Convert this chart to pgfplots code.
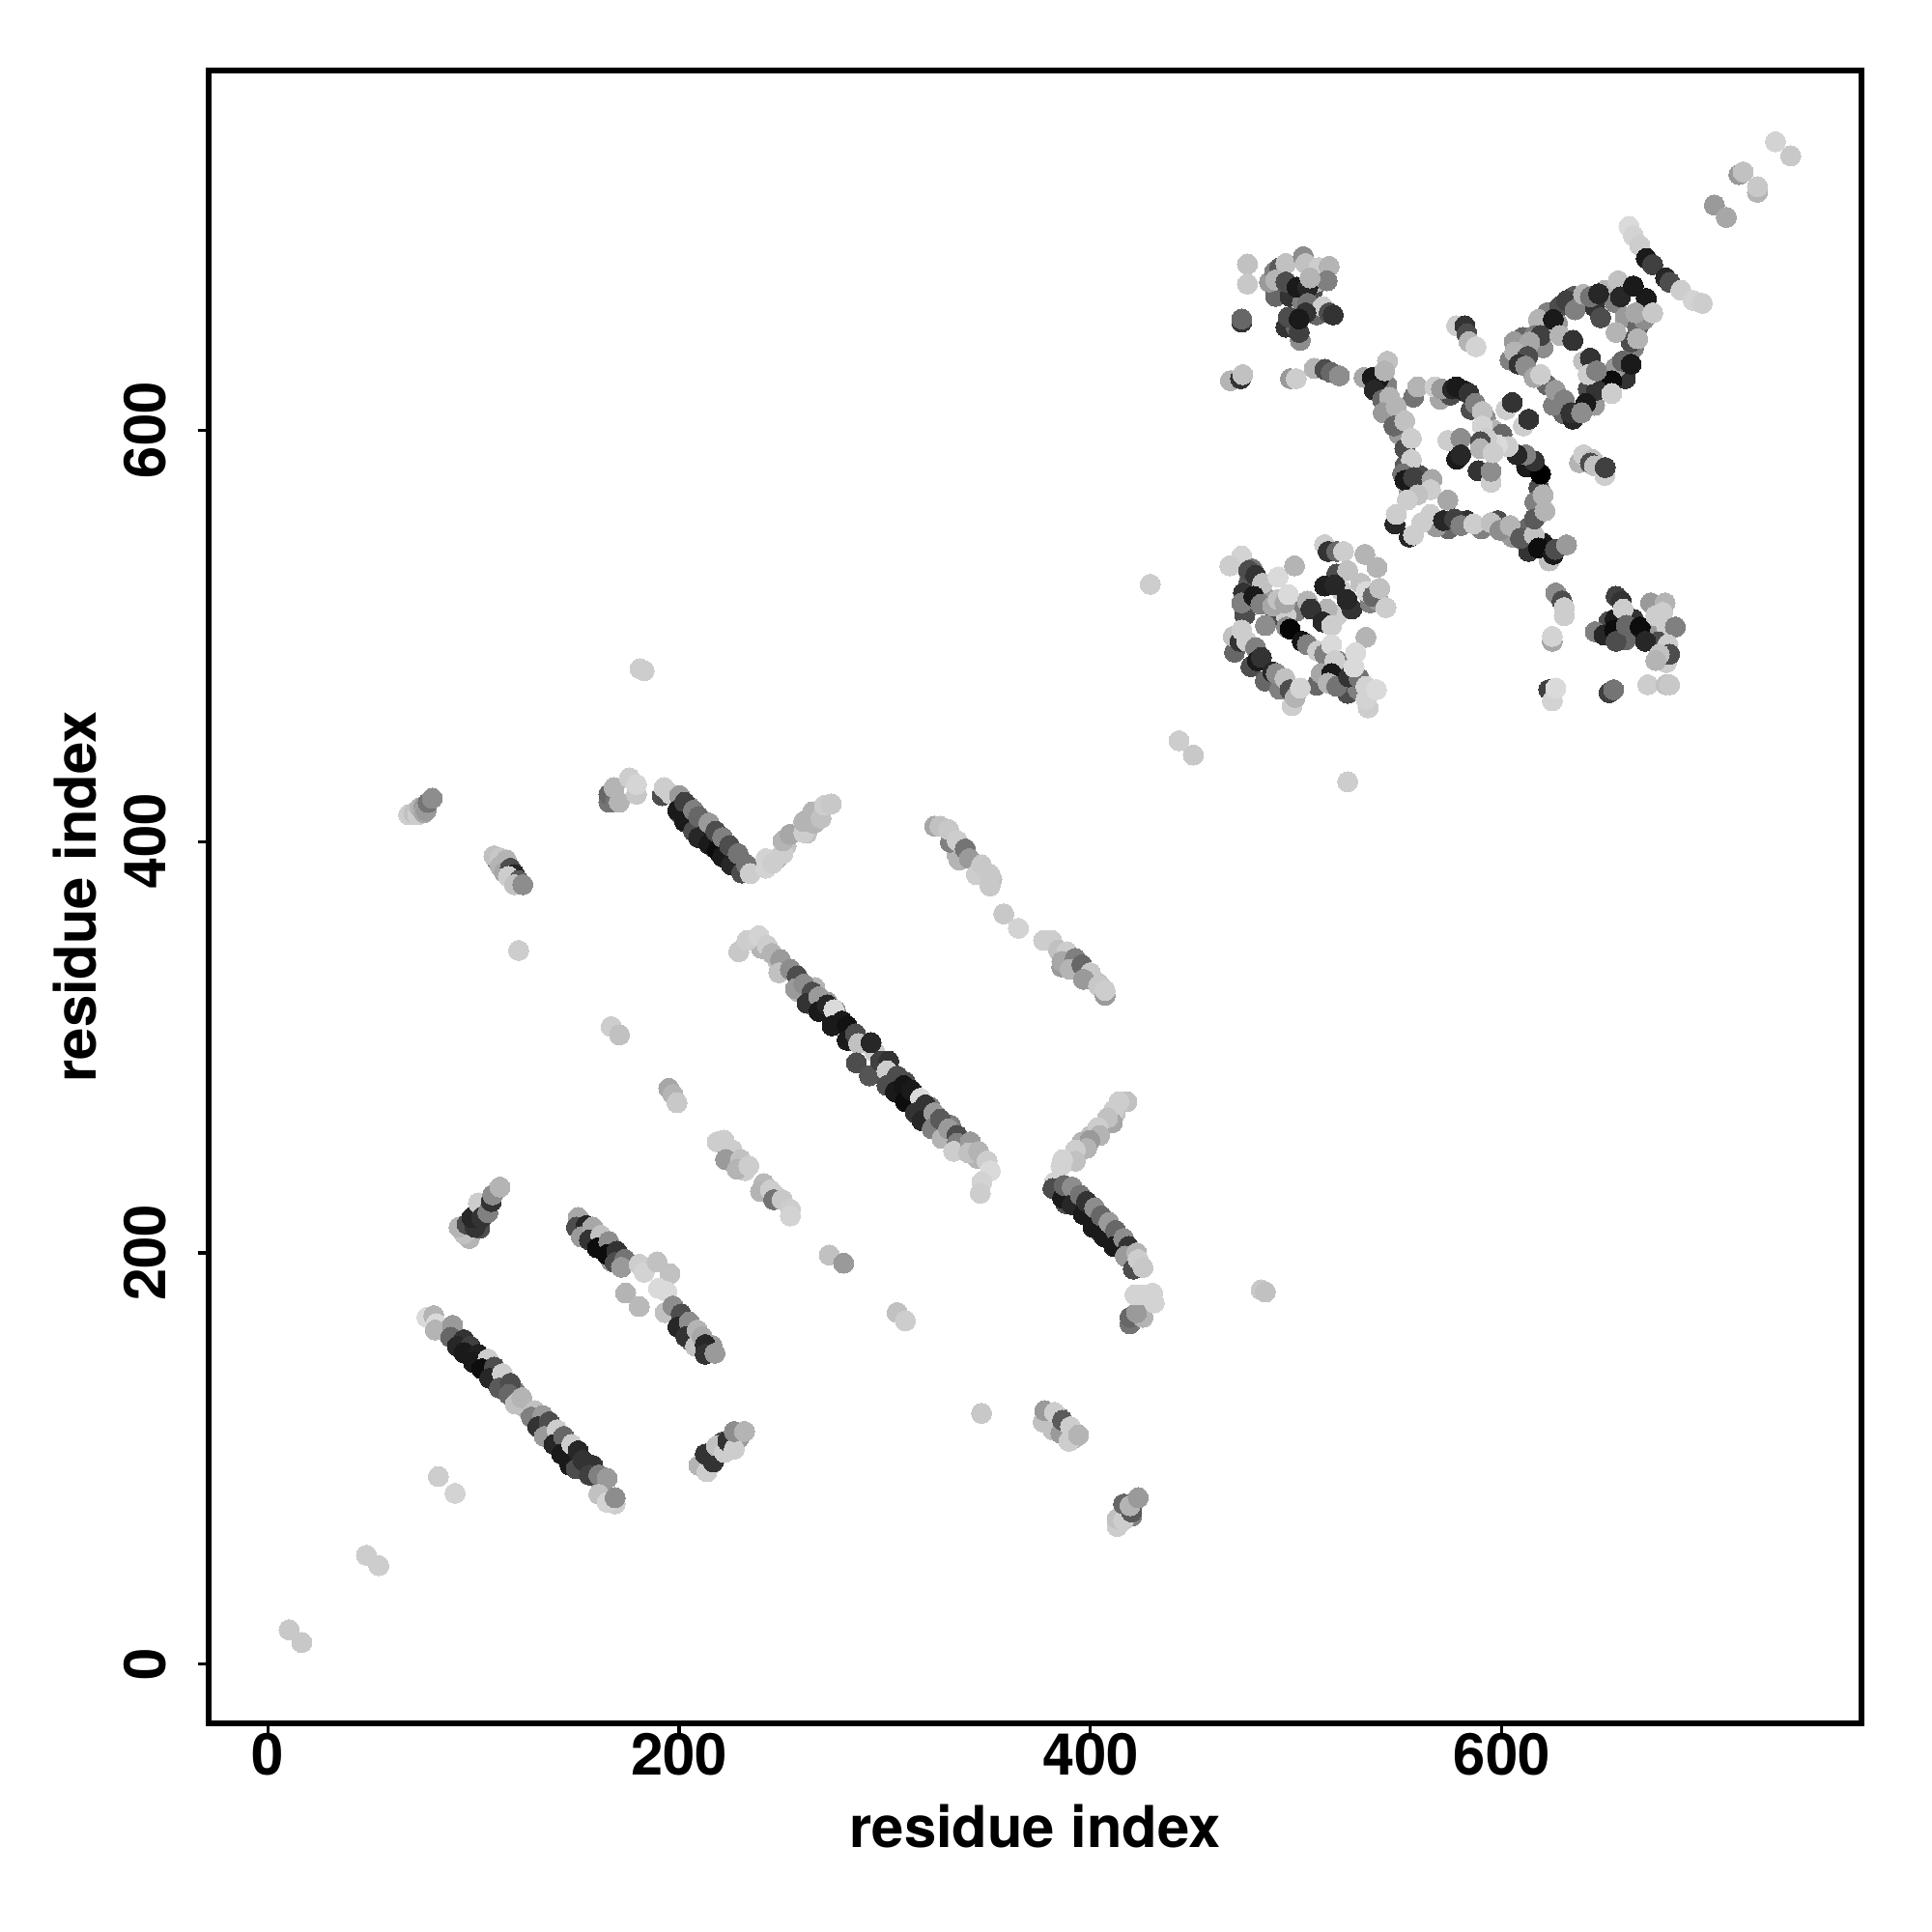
\documentclass[border=0pt]{standalone}
\usepackage{fontspec}
\setmainfont{TeX Gyre Heros}
\usepackage{pgfplots}
\pgfplotsset{compat=1.18}
\begin{document}
\begin{tikzpicture}[x=1cm,y=1cm]
\useasboundingbox (0,0) rectangle (20,20);
\begin{axis}[
 at={(2.16cm,2.16cm)},anchor=south west,
 scale only axis,width=17.11cm,height=17.11cm,
 xmin=-28.7,xmax=774.8,ymin=-28.7,ymax=774.8,
 axis line style={line width=1.7pt,black},
 tick pos=left,tick align=outside,
 major tick length=0.115cm,
 tick style={line width=0.9pt,black},
 xtick={0,200,400,600},ytick={0,200,400,600},
 /pgf/number format/assume math mode=true,
 ticklabel style={font=\fontsize{17}{20}\selectfont\bfseries},
 yticklabel style={rotate=90,anchor=south,inner sep=0pt,yshift=0.32cm},
 xticklabel style={anchor=north,inner sep=0pt,yshift=0.02cm},
 label style={font=\fontsize{17}{20}\selectfont\bfseries},
 xlabel={residue index},ylabel={residue index},
 xlabel style={at={(axis description cs:0.5,0)},anchor=north,inner sep=0pt,yshift=-0.83cm},
 ylabel style={at={(axis description cs:0,0.5)},anchor=south,inner sep=0pt,yshift=1.15cm},
 colormap/blackwhite,point meta min=0,point meta max=1,
 clip=true,
]
\addplot[scatter,only marks,mark=*,mark size=0.104cm,point meta=explicit,
 scatter/use mapped color={draw=mapped color,fill=mapped color},
 mark options={line width=0pt}]
 table[header=false,row sep=\\,x index=0,y index=1,meta index=2]{
266 329 .7\\258 327 .7\\272 322 .6\\276 318 .6\\295 298 .8\\310 283 .3\\322 271 .5\\318 268 .7\\332 262 .5\\338 252 .7\\325 262 .8\\248 342 .75\\240 348 .7\\285 303 .3\\300 286 .2\\345 246 .7\\
100 150 .5\\92 157 .6\\110 143 .7\\112 136 .6\\125 125 .7\\120 133 .5\\128 121 .5\\140 111 .6\\150 101 .5\\140 107 .6\\162 88 .6\\152 98 .4\\
205 417 .6\\200 414 .3\\212 410 .5\\208 406 .2\\225 396 .5\\217 397 .2\\232 389 .6\\220 394 .3\\392 227 .5\\388 224 .3\\400 222 .6\\397 219 .3\\412 208 .6\\405 210 .2\\420 200 .6\\412 204 .3\\
160 209 .6\\154 208 .4\\172 197 .5\\167 196 .6\\208 161 .6\\202 162 .6\\216 155 .6\\206 157 .4\\
340 393 .7\\335 394 .7\\350 382 .75\\392 342 .75\\386 339 .6\\404 331 .75\\232 240 .8\\227 243 .75\\248 227 .8\\252 398 .75\\248 392 .7\\268 412 .75\\262 404 .75\\400 257 .75\\396 254 .7\\410 264 .75\\412 268 .75\\
610 645 .4\\606 643 .6\\604 634 .5\\614 640 .2\\620 640 .55\\622 657 .5\\628 660 .3\\627 652 .6\\635 665 .35\\645 660 .2\\650 668 .7\\655 662 .5\\660 655 .6\\666 650 .4\\664 640 .5\\660 625 .2\\655 630 .6\\650 620 .15\\645 612 .6\\642 620 .3\\630 608 .4\\625 612 .5\\622 622 .4\\
540 620 .2\\544 622 .5\\546 608 .3\\550 598 .6\\553 583 .35\\555 570 .6\\560 578 .3\\570 615 .65\\575 617 .3\\585 610 .3\\592 606 .55\\596 600 .7\\600 598 .4\\612 582 .1\\618 572 .3\\616 565 .5\\612 552 .4\\605 548 .6\\598 556 .3\\590 552 .5\\583 556 .2\\574 552 .4\\568 553 .6\\620 545 .1\\613 541 .2\\
477 526 .35\\484 520 .6\\490 510 .3\\500 512 .5\\485 505 .55\\475 510 .3\\495 510 .8\\470 492 .4\\478 485 .3\\485 478 .4\\492 474 .5\\498 466 .8\\520 488 .5\\510 476 .4\\525 472 .3\\530 474 .5\\535 465 .8\\520 510 .8\\515 513 .7\\527 513 .2\\536 516 .5\\540 517 .6\\522 522 .8\\
490 665 .4\\497 665 .2\\503 662 .5\\508 668 .3\\510 672 .7\\495 650 .2\\500 650 .4\\510 656 .4\\487 672 .6\\
660 498 .4\\664 508 .2\\672 500 .1\\676 504 .6\\680 505 .8\\676 497 .3\\652 507 .3\\655 508 .1\\680 487 .8\\
98 207 .7\\102 219 .4\\105 222 .3\\103 212 .3\\214 98 .3\\219 102 .5\\221 108 .3\\225 108 .7\\229 110 .6\\116 387 .3\\112 390 .5\\420 72 .5\\385 120 .5\\388 112 .7\\392 110 .7\\
10.4 16.8 .78\\16.6 10.6 .78\\48 53 .8\\54 48 .8\\83 91.3 .8\\91.1 83.1 .82\\
77.4 168.7 .85\\80.8 169.5 .7\\82 165.6 .85\\81.5 162.5 .7\\89.9 164.8 .6\\89 159 .4\\95.4 157.8 .2\\92.2 154.6 .15\\98.5 154.6 .25\\95.4 151.5 .1\\102.4 150.7 .12\\100 146.8 .1\\107.1 148.4 .8\\104 143.7 .05\\110.2 144.5 .3\\107.9 139 .15\\114.1 141.3 .8\\112.6 134.3 .35\\118 136.6 .3\\117.3 131.2 .4\\120.4 126.5 .75\\123.5 129.6 .7\\
129.8 123.3 .75\\128.2 120.2 .5\\133.7 121 .6\\131.3 115.5 .2\\136.8 117.9 .3\\134.5 110.8 .6\\140.7 114 .8\\139.2 106.9 .15\\143.9 110.8 .4\\143 102.2 .1\\147.8 106.9 .8\\147 96.7 .1\\150.9 103.8 .15\\150 95 .3\\153.3 99.1 .2\\158 96.7 .2\\156.4 92 .25\\161 92 .5\\165 90.5 .6\\161 82.6 .75\\168.9 78 .8\\165 78.7 .82\\168.9 81 .55\\
150.9 217.2 .65\\150.1 212.5 .3\\154.8 213.3 .15\\152.5 207.8 .6\\158 212.5 .65\\156.4 206.3 .2\\161.9 208.6 .75\\160.3 202.4 .05\\165.8 205.5 .55\\165 199.2 .05\\169.7 200.8 .2\\168.9 195.3 .3\\173.6 196.9 .45\\172 193 .6\\
180.6 194.5 .8\\183 190.6 .82\\189.3 195.6 .75\\195.5 189.9 .75\\190 182.8 .85\\194 181.2 .85\\174 180.5 .7\\180.6 173.9 .72\\
193.2 171 .75\\197 174.2 .55\\201 170.3 .3\\199.4 164 .15\\204.9 166.4 .55\\203.3 159.3 .2\\208.8 162.5 .7\\208 154.6 .75\\211.2 159.3 .65\\212.7 155.4 .15\\212.7 150.7 .2\\217.4 151.2 .6\\
95.4 209.4 .75\\93 212.5 .7\\96.9 214 .3\\100.8 212.5 .2\\99.3 217.2 .15\\102.4 224.3 .8\\104 217.2 .2\\107 219.6 .5\\108.7 225 .2\\109.4 228.2 .55\\112.9 232 .7\\
209.6 96.7 .7\\213.5 93.6 .8\\212.7 102.2 .2\\216.6 98.3 .2\\218.2 106.1 .75\\222.1 103 .8\\223.7 108.5 .2\\226.8 104.6 .8\\226.8 113.2 .55\\231.8 113.2 .7\\
229 346.4 .78\\233 351.9 .8\\238.8 354.2 .82\\242.8 349.5 .8\\245.2 345.6 .7\\249.3 342.5 .6\\248.5 336.2 .75\\254.1 337.8 .55\\257.4 334.6 .3\\256.6 328.4 .6\\260.6 330.7 .55\\264.7 326.8 .3\\262.2 321.3 .2\\267.9 324.5 .6\\267.9 317.4 .1\\272 320.6 .15\\275.2 318.2 .85\\274.4 310.4 .1\\279.2 312.7 .1\\281.7 310.4 .07\\281.7 303.4 .1\\285.7 306.5 .3\\287.3 301.8 .75\\293.3 302.2 .15\\286.2 292.4 .3\\292.5 286.1 .33\\297.9 293.2 .25\\301.9 293.2 .2\\301.1 288.5 .8\\306 286 .3\\301.1 281.4 .3\\305.1 278.3 .1\\309.2 281.4 .08\\310 273.6 .05\\312.9 279.1 .1\\317.3 275.2 .85\\314.9 268.1 .2\\319.7 272 .2\\318.1 264.2 .15\\323.8 268.1 .6\\323 260.3 .5\\327 265 .35\\327.8 255.6 .7\\331 260.3 .6\\335.1 257.2 .3\\335.1 253.3 .5\\333.5 249.4 .8\\341.6 254 .6\\340.8 248.6 .75\\345.6 249.3 .7\\349.7 244.7 .8\\351.3 239.9 .85\\347.2 234.5 .82\\346.4 229 .8\\
218.5 254 .8\\221.8 254.8 .8\\225.8 250.1 .8\\222.6 245.4 .6\\229.9 245.4 .75\\228.2 240.7 .7\\233.9 242.3 .8\\241.2 233.7 .72\\239.6 229.8 .7\\244.4 230.6 .8\\246 225.9 .45\\250.1 225.9 .78\\254.1 221.2 .8\\254.1 218 .82\\
357.8 364.8 .78\\365 357.8 .82\\
377.2 351.9 .8\\381.2 351.9 .8\\384.5 347.2 .75\\388.5 346.4 .8\\386.1 341.7 .65\\392.6 343.2 .5\\390.1 337.8 .7\\395.8 340.1 .4\\399.9 336.2 .78\\396.6 333 .6\\403.9 329.9 .78\\407.1 325.2 .6\\407.1 327.6 .8\\
417.7 273.5 .75\\413.8 273.5 .8\\411.4 269.6 .8\\410.6 263.3 .65\\408.3 265.7 .75\\403.6 261 .8\\404.4 257.1 .7\\399.7 254.7 .6\\398.1 250.8 .7\\392.6 250 .8\\392.6 244.6 .75\\386.4 245.3 .82\\385.6 242.2 .82\\
382.5 234.4 .82\\381.7 231.3 .3\\386.4 226.6 .1\\387.2 232.8 .4\\391.1 232 .55\\391.1 223.4 .15\\395 228.1 .45\\396.5 218.7 .1\\398.1 225 .2\\402 221.9 .55\\401.2 212.5 .1\\405.2 218 .4\\406.7 207.8 .1\\409 214.8 .6\\412.2 210.9 .4\\411.4 203.1 .1\\416.1 207 .55\\418.5 203.1 .2\\416.9 198.4 .6\\420.8 192.1 .3\\422.4 200 .7\\423.2 196.8 .8\\425.5 192.9 .78\\
419.2 165.5 .45\\419.2 168.7 .4\\425.5 168.7 .7\\422.4 171 .6\\425.5 179.6 .82\\421.6 179.6 .82\\430.2 180.4 .82\\431 175.7 .82\\
377 117.8 .75\\377.8 123.3 .6\\381.7 113.9 .75\\382.5 122.5 .8\\385.6 112.3 .6\\386.4 118.6 .35\\389.5 108.4 .8\\390.3 115.5 .8\\394.2 111.5 .7\\
413 67 .8\\413 70.8 .75\\416.1 70.1 .8\\416.1 77.9 .4\\420 74 .35\\419.2 77.1 .7\\423.2 81 .6\\
165.9 419.1 .45\\165.9 423 .4\\169.2 419.1 .45\\170.9 419.1 .7\\168.4 426.2 .7\\175.9 430.9 .8\\179.3 423 .78\\179.3 427.7 .83\\
191.8 422.3 .3\\192.7 426.2 .8\\196 423 .8\\200.2 422.3 .6\\199.4 415.2 .1\\202.7 419.1 .25\\202.7 409.7 .1\\207 415.2 .5\\207 405 .3\\209.5 412.1 .4\\209.5 401.9 .15\\214.5 398.8 .1\\214.5 409 .6\\217.8 405 .3\\218.7 395.7 .05\\221.2 401.9 .5\\221.2 392.5 .1\\224.5 398 .3\\225.4 388.6 .15\\228.7 394.1 .45\\230.4 384.7 .3\\232.9 388.6 .45\\234.6 384.4 .8\\
242.2 387 .82\\242.2 391.7 .82\\245.5 389.4 .8\\250.5 394.1 .8\\250.5 400.3 .7\\253.9 403.5 .65\\260.6 404.3 .8\\260.6 409.7 .7\\265.6 408.9 .7\\264.8 414.4 .7\\269 411.3 .75\\270.7 417.6 .8\\274 418.3 .78\\
324.3 407.4 .65\\326.8 407.4 .75\\331.9 399.6 .5\\331 405.8 .78\\335.2 400.4 .8\\336.1 391 .7\\339.1 396.4 .45\\341.1 391.7 .6\\344.5 383.9 .8\\347 388.6 .78\\352 381.6 .75\\351.2 383.9 .78\\351.2 378.4 .78\\
68.5 413 .8\\71 414 .75\\73 413 .8\\74 416.5 .7\\76 417 .6\\76 414 .65\\77 415 .6\\78 419 .45\\80 421 .55\\
110 393 .75\\113 392 .78\\116 391 .7\\113 388 .7\\115 385 .65\\118 387 .3\\120 384 .15\\117 383 .8\\122 381 .35\\120 379 .75\\124 379 .55\\
122 347 .8\\347 122 .78\\181 484 .8\\183 483 .8\\483 182 .78\\485 181 .75\\525 429 .8\\429 525 .8\\443 449 .8\\450 442 .78\\273 199 .75\\280 195 .6\\195 280 .65\\197 277 .7\\199 273 .78\\306 171 .75\\310 167 .8\\167 310 .8\\171 306 .75\\
703.3 709.4 .6\\709.1 703.4 .65\\715.2 724.2 .6\\717.3 725.5 .75\\724.2 715.6 .7\\724.2 718.3 .78\\733 740.2 .82\\740.4 733.3 .78\\
476.3 680.7 .75\\476.3 671 .78\\473.5 652.5 .2\\473.5 654 .4\\489.5 677 .5\\492 679 .35\\495 681 .75\\503.5 684.3 .55\\504.6 681 .75\\490 673 .7\\495 672 .3\\500.4 669.5 .1\\505.6 669.5 .15\\511 679 .8\\516 679.6 .7\\515 672.6 .5\\506.7 674 .7\\
505.6 661.6 .45\\513 660 .8\\516 657 .3\\518 656 .2\\496.2 655 .3\\502 643.6 .55\\501.4 647.5 .25\\504.6 657 .2\\501.4 654 .1\\
468 624 .7\\473 625 .2\\474 627 .75\\497.2 625 .6\\500 625 .8\\508.8 630 .7\\514 629.5 .3\\517 628 .4\\521 626.4 .55\\
533 625.6 .65\\537 625.6 .1\\540 625 .1\\538 619.4 .15\\544.4 633.5 .75\\543 628.8 .7\\542 614.7 .4\\545.4 616 .7\\557 616 .45\\559 621 .7\\567.4 621 .8\\570.6 620 .6\\576 620 .15\\578 621 .1\\582 619 .1\\584 617.8 .2\\587 613 .5\\590.5 609 .75\\590.5 602 .82\\
542.3 608.4 .6\\548.6 611.5 .7\\547.5 602 .4\\552.8 604.5 .75\\552.8 591 .3\\556 596 .8\\556 585.7 .8\\551.7 578.7 .45\\552.8 575.6 .1\\557 577 .25\\566 576 .65\\565.3 571 .8\\559 568.5 .75\\554 566 .8\\573.7 566 .65\\548 554.4 .15\\548.6 559 .8\\555 548 .15\\557 549 .8\\565.3 559 .8\\561 555 .8\\571.6 556 .15\\577 556.8 .25\\580 553.6 .5\\586.3 554.4 .8\\594.7 555 .75\\599 551.3 .55\\604 553.6 .7\\609 547.4 .35\\615.7 549 .75\\623 536.4 .75\\617.8 542.7 .05\\625 539.6 .1\\626 542 .3\\631.4 544.2 .6\\
615.7 556.8 .35\\620.9 560.7 .7\\620 568.5 .7\\618.8 578.7 .0\\615.7 585 .2\\611.5 588 .5\\607.3 588 .15\\603 592 .8\\597.8 592.8 .85\\592.6 596 .8\\
573.7 595 .8\\580 596 .55\\589.5 594.3 .3\\578 585.9 .1\\580 588 .15\\588.4 580.2 .2\\594.7 574.6 .8\\594.7 580 .55\\589.5 591 .7\\595.7 589 .8\\
602 610 .8\\605 613.4 .2\\610.4 602 .8\\613 605.3 .2\\
637.7 584.2 .7\\639.7 588 .8\\644 585.7 .75\\643 584 .3\\645 582.6 .75\\650 578 .8\\650.2 581.8 .25\\
578 650.7 .8\\582 650.7 .2\\583 646.8 .3\\584 643 .7\\587.4 640.5 .82\\
617.8 653.8 .7\\615.7 646 .5\\618.8 646 .25\\613.5 642.8 .65\\606.2 638 .7\\612.5 635.8 .3\\608.3 632 .2\\611.5 631.1 .55\\615.7 625.6 .65\\618.8 627 .8\\625 653.8 .1\\631.4 663 .25\\635.6 658.5 .5\\639.7 666 .7\\643 664.8 .45\\647 666.3 .15\\656.5 672.6 .75\\657.6 664.8 .15\\663.9 670 .1\\670.2 664 .1\\669.1 653.8 .55\\665 657 .65\\673.3 657 .78\\662.8 642.8 .3\\666 644.4 .7\\658.6 633.5 .4\\662.8 632 .1\\653.4 624 .05\\646 619.4 .2\\653.4 617.8 .8\\640.8 613 .1\\626 619.4 .6\\630.3 614.7 .5\\634.5 605.3 .15\\633.5 608.4 .2\\638.7 608.4 .55\\
648 654.6 .3\\628.2 646 .7\\634.5 643.6 .2\\655.5 647.5 .7\\639.7 633.5 .75\\643 635 .2\\641.9 627 .8\\646 628.8 .5\\
661.8 699 .85\\663.9 694.5 .82\\667 689.8 .8\\670.2 683.5 .1\\673.3 680.4 .25\\679.6 674 .15\\681.7 671.8 .3\\687 668 .8\\693 663 .82\\697.4 661.6 .8\\
473.5 538.8 .82\\467.7 534 .8\\478.6 532.5 .45\\476.9 531.7 .3\\480.3 529.4 .2\\483.6 525.5 .75\\491.2 528.6 .85\\499.2 534 .7\\474.4 520.8 .2\\473.5 516 .5\\479.4 519.2 .1\\482.8 515.3 .5\\488.6 514.5 .65\\491.2 517.6 .75\\494.5 516 .65\\496.2 520 .85\\505.4 516.9 .7\\507.1 513 .2\\495.3 504.3 .55\\497 503.3 .02\\513 506.7 .15\\517.2 505 .8\\502.9 497.3 .08\\505.4 495.7 .5\\
513.8 544.3 .8\\515.5 541 .2\\519.7 541 .4\\523 541 .8\\533.4 539.6 .7\\539.3 533.3 .7\\519.7 530 .3\\525 531.7 .75\\513.8 524.2 .12\\518.8 524.7 .15\\524.7 517.6 .15\\531.4 525.5 .75\\534 521.6 .85\\537.3 519.2 .4\\540.6 523.1 .75\\543.6 513.7 .8\\
469.4 499.7 .75\\472.7 497.3 .2\\473.5 502.8 .8\\476 497.3 .8\\480.3 494.2 .5\\481.1 487.9 .1\\483.1 489.5 .2\\488.6 482.4 .15\\490.3 481.7 .55\\494.5 479.3 .75\\497 473.8 .3\\499.5 470 .7\\502 474.6 .82\\
510.4 492.6 .8\\513.8 491 .5\\517.2 495.7 .85\\533.9 499.3 .7\\528.9 491.8 .85\\518.8 487.9 .8\\512.1 481.7 .65\\517.2 481.7 .1\\515.5 477 .7\\519.7 475.4 .45\\525.5 480 .2\\530.6 479.3 .45\\528.1 484.8 .85\\533.9 469.1 .82\\533.9 475.4 .82\\539 473.8 .85\\
626.2 520.8 .55\\629.2 516.9 .3\\630.3 513.7 .8\\630.3 509.8 .8\\624.5 497.3 .65\\624.5 499.7 .82\\622.8 473.8 .25\\624.5 468.4 .82\\626.2 474.6 .85\\652.1 472.3 .25\\654.3 473.8 .45\\
655.5 519.2 .25\\658 516.9 .2\\658.9 513 .8\\645.4 502 .5\\649.6 500.4 .15\\654.7 502.8 .05\\655.5 497.3 .3\\660.5 505.1 .4\\667.2 504.3 .05\\669.8 497.3 .15\\672.3 516 .6\\679.3 516 .7\\674.8 509.8 .8\\678.1 511.4 .8\\684.3 504.3 .5\\679.8 494.2 .55\\680.7 495.7 .8\\681.5 491 .3\\676.5 491 .75\\674.8 488 .7\\670.9 476.2 .8\\679.8 476.2 .75\\681.5 476.2 .78\\
};
\end{axis}
\end{tikzpicture}
\end{document}
